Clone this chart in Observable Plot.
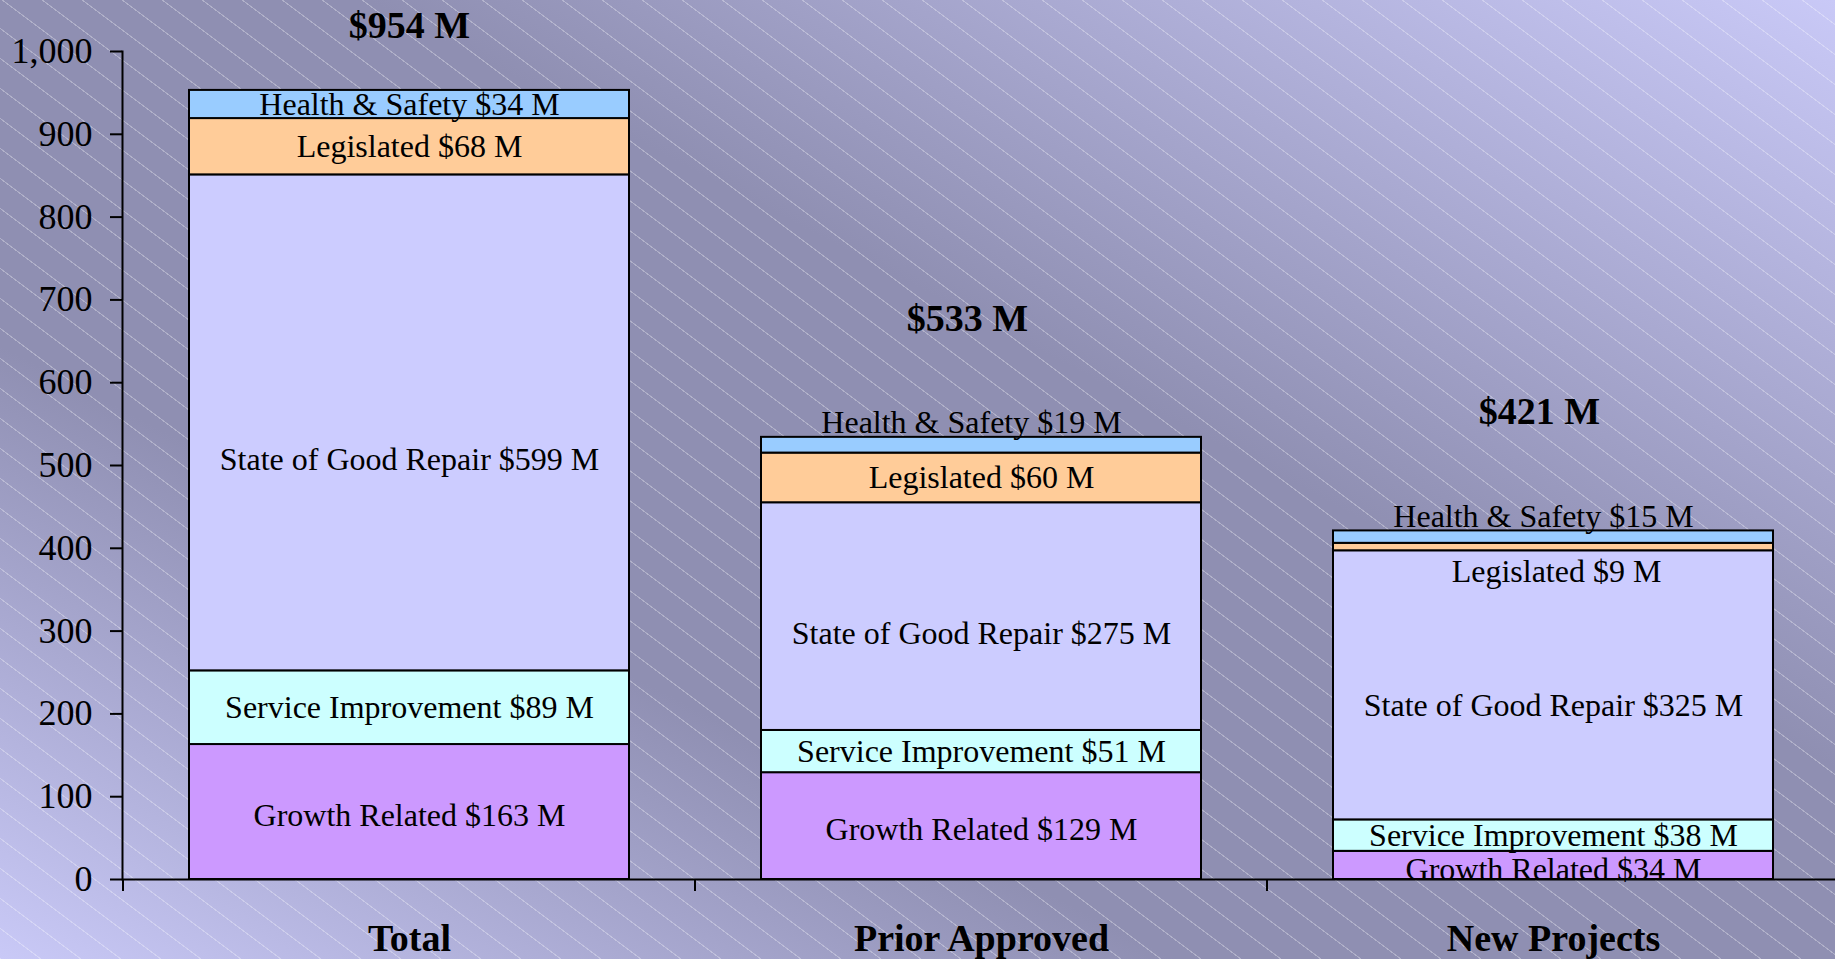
<!DOCTYPE html>
<html><head><meta charset="utf-8">
<script src="https://cdn.jsdelivr.net/npm/d3@7"></script>
<script src="https://cdn.jsdelivr.net/npm/@observablehq/plot@0.6"></script>
<style>
html,body{margin:0;padding:0;}
body{width:1835px;height:959px;overflow:hidden;position:relative;
background:
 repeating-linear-gradient(36.87deg, rgba(255,255,255,0.3) 0px, rgba(255,255,255,0.3) 1px, rgba(255,255,255,0) 1.2px, rgba(255,255,255,0) 24px),
 linear-gradient(to top right, #c9c9f7 0%, #8f8fb2 32%, #8f8fb2 60%, #c9c9f7 100%);
font-family:"Liberation Serif","Times New Roman",serif;}
#chart{position:absolute;left:0;top:0;}
</style></head><body><div id="chart"></div>
<script>
const categories = ["Total", "Prior Approved", "New Projects"];
const seriesNames = ["Growth Related", "Service Improvement", "State of Good Repair", "Legislated", "Health & Safety"];
const growth = [163, 129, 34];
const service = [89, 51, 38];
const goodRepair = [599, 275, 325];
const legislated = [68, 60, 9];
const healthSafety = [34, 19, 15];
const totals = [954, 533, 421];
const yTicks = [0, 100, 200, 300, 400, 500, 600, 700, 800, 900, 1000];
const seriesColors = ["#cc99ff", "#ccffff", "#ccccff", "#ffcc99", "#99ccff"];

const seriesValues = [growth, service, goodRepair, legislated, healthSafety];
const rows = [];
categories.forEach((cat, i) => {
  let base = 0;
  seriesValues.forEach((vals, s) => {
    const v = vals[i];
    const r = {cat, series: seriesNames[s], value: v, y1: base, y2: base + v, top: s === seriesValues.length - 1};
    base += v;
    r.label = `${r.series} $${v} M`;
    if (v < 25 && r.top) { r.ly = r.y2; r.pos = "above"; }
    else if (v < 25) { r.ly = r.y1; r.pos = "below"; }
    else if (r.series === "State of Good Repair") { r.ly = r.y1 + 0.425 * v; r.pos = "mid"; }
    else if (r.series === "Growth Related") { r.ly = (r.y1 + r.y2) / 2; r.pos = "low"; }
    else { r.ly = (r.y1 + r.y2) / 2; r.pos = "mid"; }
    rows.push(r);
  });
});
const totalRows = categories.map((cat, i) => ({cat, first: i === 0, total: totals[i], label: `$${totals[i]} M`, ly: Math.min(totals[i] + 144, 1031)}));

const font = '"Liberation Serif","Times New Roman",serif';
const chart = Plot.plot({
  width: 1835, height: 959,
  marginLeft: 122, marginTop: 51, marginBottom: 80, marginRight: 0,
  style: {background: "transparent", fontFamily: font, color: "black", overflow: "visible"},
  x: {domain: categories, range: [122, 1839.5], paddingInner: 0.231, paddingOuter: 0.1155, label: null},
  y: {domain: [0, 1000], label: null},
  color: {domain: seriesNames, range: seriesColors},
  marks: [
    Plot.barY(rows, {x: "cat", y1: "y1", y2: "y2", fill: "series", stroke: "black", strokeWidth: 2}),
    Plot.text(rows.filter(d => d.pos === "mid"), {x: "cat", y: "ly", text: "label", fontSize: 32, fill: "black", lineAnchor: "middle"}),
    Plot.text(rows.filter(d => d.pos === "low"), {x: "cat", y: "ly", text: "label", fontSize: 32, fill: "black", lineAnchor: "middle", dy: 4}),
    Plot.text(rows.filter(d => d.pos === "above"), {x: "cat", y: "ly", text: "label", fontSize: 32, fill: "black", lineAnchor: "bottom", dy: -4, dx: -10}),
    Plot.text(rows.filter(d => d.pos === "below"), {x: "cat", y: "ly", text: "label", fontSize: 32, fill: "black", lineAnchor: "top", dy: 8, dx: 3}),
    Plot.text(totalRows.filter(d => d.first), {x: "cat", y: "ly", text: "label", fontSize: 38, fontWeight: "bold", fill: "black", lineAnchor: "middle"}),
    Plot.text(totalRows.filter(d => !d.first), {x: "cat", y: "ly", text: "label", fontSize: 38, fontWeight: "bold", fill: "black", lineAnchor: "middle", dx: -14}),
    Plot.axisY(yTicks, {tickSize: 12, tickPadding: 18, fontSize: 36, tickFormat: d3.format(","), strokeWidth: 2, label: null}),
    Plot.axisX({tickSize: 0, tickPadding: 45, fontSize: 38, fontWeight: "bold", label: null}),
    Plot.frame({anchor: "left", stroke: "black", strokeWidth: 2}),
    Plot.ruleY([0], {stroke: "black", strokeWidth: 2})
  ]
});
document.getElementById("chart").appendChild(chart);

// category boundary ticks on the x axis, from the band scale
const xs = chart.scale("x");
const ys = chart.scale("y");
const step = xs.step, bw = xs.bandwidth;
const gap = (step - bw) / 2;
const bounds = categories.map(c => xs.apply(c) - gap);
bounds.push(xs.apply(categories[categories.length - 1]) + bw + gap);
const y0 = ys.apply(0);
d3.select(chart).append("g").attr("stroke", "black").attr("stroke-width", 2)
  .selectAll("line").data(bounds).join("line")
  .attr("x1", d => d).attr("x2", d => d).attr("y1", y0).attr("y2", y0 + 12);
</script></body></html>
